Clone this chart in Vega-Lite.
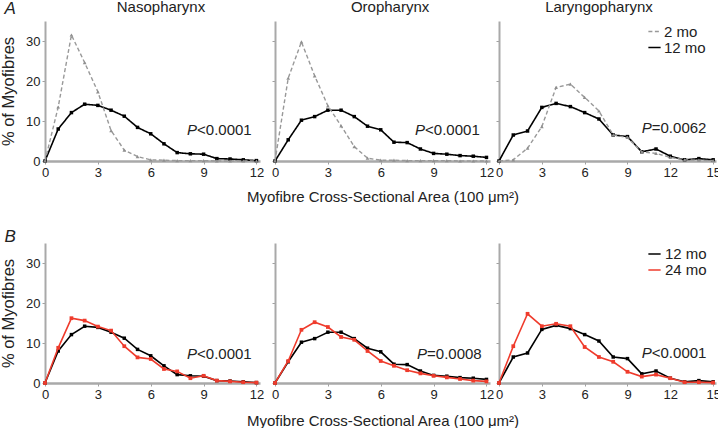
{
"$schema":"https://vega.github.io/schema/vega-lite/v6.json",
"background":"white",
"padding":{"left":0,"top":0,"right":0,"bottom":0},
"config":{
 "font":"Liberation Sans",
 "view":{"stroke":null},
 "axis":{"grid":false,"domainColor":"#a9a9a9","domainWidth":2,"tickColor":"#a0a0a0","tickSize":3,"tickWidth":1,"labelFont":"Liberation Sans","labelFontSize":13,"labelColor":"#222","labelPadding":2,"labelFlush":false,"labelOverlap":false,"titleFont":"Liberation Sans","titleFontSize":15,"titleFontWeight":"normal","titleColor":"#222"},
 "axisX":{"domainWidth":2.5},
 "legend":{"labelFont":"Liberation Sans","labelFontSize":15,"labelColor":"#222","padding":0},
 "text":{"font":"Liberation Sans","fontSize":15,"color":"#222","align":"left","baseline":"middle"}
},
"datasets":{"d":[
{"region":"Nasopharynx","age":"12 mo","x":0,"y":0},{"region":"Nasopharynx","age":"12 mo","x":0.75,"y":8.0},{"region":"Nasopharynx","age":"12 mo","x":1.5,"y":12.1},{"region":"Nasopharynx","age":"12 mo","x":2.25,"y":14.2},{"region":"Nasopharynx","age":"12 mo","x":3,"y":13.9},{"region":"Nasopharynx","age":"12 mo","x":3.75,"y":12.7},{"region":"Nasopharynx","age":"12 mo","x":4.5,"y":11.2},{"region":"Nasopharynx","age":"12 mo","x":5.25,"y":8.4},{"region":"Nasopharynx","age":"12 mo","x":6,"y":6.8},{"region":"Nasopharynx","age":"12 mo","x":6.75,"y":4.3},{"region":"Nasopharynx","age":"12 mo","x":7.5,"y":2.1},{"region":"Nasopharynx","age":"12 mo","x":8.25,"y":1.8},{"region":"Nasopharynx","age":"12 mo","x":9,"y":1.7},{"region":"Nasopharynx","age":"12 mo","x":9.75,"y":0.6},{"region":"Nasopharynx","age":"12 mo","x":10.5,"y":0.5},{"region":"Nasopharynx","age":"12 mo","x":11.25,"y":0.3},{"region":"Nasopharynx","age":"12 mo","x":12,"y":0.1},
{"region":"Oropharynx","age":"12 mo","x":0,"y":0},{"region":"Oropharynx","age":"12 mo","x":0.75,"y":5.3},{"region":"Oropharynx","age":"12 mo","x":1.5,"y":10.2},{"region":"Oropharynx","age":"12 mo","x":2.25,"y":11.1},{"region":"Oropharynx","age":"12 mo","x":3,"y":12.7},{"region":"Oropharynx","age":"12 mo","x":3.75,"y":12.7},{"region":"Oropharynx","age":"12 mo","x":4.5,"y":11.1},{"region":"Oropharynx","age":"12 mo","x":5.25,"y":8.7},{"region":"Oropharynx","age":"12 mo","x":6,"y":7.8},{"region":"Oropharynx","age":"12 mo","x":6.75,"y":4.7},{"region":"Oropharynx","age":"12 mo","x":7.5,"y":4.6},{"region":"Oropharynx","age":"12 mo","x":8.25,"y":3.0},{"region":"Oropharynx","age":"12 mo","x":9,"y":1.9},{"region":"Oropharynx","age":"12 mo","x":9.75,"y":1.7},{"region":"Oropharynx","age":"12 mo","x":10.5,"y":1.35},{"region":"Oropharynx","age":"12 mo","x":11.25,"y":1.2},{"region":"Oropharynx","age":"12 mo","x":12,"y":0.9},
{"region":"Laryngopharynx","age":"12 mo","x":0,"y":0},{"region":"Laryngopharynx","age":"12 mo","x":1,"y":6.5},{"region":"Laryngopharynx","age":"12 mo","x":2,"y":7.5},{"region":"Laryngopharynx","age":"12 mo","x":3,"y":13.4},{"region":"Laryngopharynx","age":"12 mo","x":4,"y":14.4},{"region":"Laryngopharynx","age":"12 mo","x":5,"y":13.6},{"region":"Laryngopharynx","age":"12 mo","x":6,"y":12.1},{"region":"Laryngopharynx","age":"12 mo","x":7,"y":10.5},{"region":"Laryngopharynx","age":"12 mo","x":8,"y":6.5},{"region":"Laryngopharynx","age":"12 mo","x":9,"y":6.1},{"region":"Laryngopharynx","age":"12 mo","x":10,"y":2.3},{"region":"Laryngopharynx","age":"12 mo","x":11,"y":3.0},{"region":"Laryngopharynx","age":"12 mo","x":12,"y":1.2},{"region":"Laryngopharynx","age":"12 mo","x":13,"y":0.3},{"region":"Laryngopharynx","age":"12 mo","x":14,"y":0.6},{"region":"Laryngopharynx","age":"12 mo","x":15,"y":0.3},
{"region":"Nasopharynx","age":"2 mo","x":0,"y":0},{"region":"Nasopharynx","age":"2 mo","x":0.75,"y":13.5},{"region":"Nasopharynx","age":"2 mo","x":1.5,"y":31.5},{"region":"Nasopharynx","age":"2 mo","x":2.25,"y":24.6},{"region":"Nasopharynx","age":"2 mo","x":3,"y":17.3},{"region":"Nasopharynx","age":"2 mo","x":3.75,"y":7.6},{"region":"Nasopharynx","age":"2 mo","x":4.5,"y":2.7},{"region":"Nasopharynx","age":"2 mo","x":5.25,"y":1.1},{"region":"Nasopharynx","age":"2 mo","x":6,"y":0.3},{"region":"Nasopharynx","age":"2 mo","x":6.75,"y":0.2},{"region":"Nasopharynx","age":"2 mo","x":7.5,"y":0.1},{"region":"Nasopharynx","age":"2 mo","x":8.25,"y":0.1},{"region":"Nasopharynx","age":"2 mo","x":9,"y":0.1},{"region":"Nasopharynx","age":"2 mo","x":9.75,"y":0},{"region":"Nasopharynx","age":"2 mo","x":10.5,"y":0},{"region":"Nasopharynx","age":"2 mo","x":11.25,"y":0},{"region":"Nasopharynx","age":"2 mo","x":12,"y":0},
{"region":"Oropharynx","age":"2 mo","x":0,"y":0},{"region":"Oropharynx","age":"2 mo","x":0.75,"y":20.7},{"region":"Oropharynx","age":"2 mo","x":1.5,"y":29.8},{"region":"Oropharynx","age":"2 mo","x":2.25,"y":21.3},{"region":"Oropharynx","age":"2 mo","x":3,"y":13.8},{"region":"Oropharynx","age":"2 mo","x":3.75,"y":8.8},{"region":"Oropharynx","age":"2 mo","x":4.5,"y":3.6},{"region":"Oropharynx","age":"2 mo","x":5.25,"y":0.7},{"region":"Oropharynx","age":"2 mo","x":6,"y":0.2},{"region":"Oropharynx","age":"2 mo","x":6.75,"y":0.2},{"region":"Oropharynx","age":"2 mo","x":7.5,"y":0.1},{"region":"Oropharynx","age":"2 mo","x":8.25,"y":0.1},{"region":"Oropharynx","age":"2 mo","x":9,"y":0.1},{"region":"Oropharynx","age":"2 mo","x":9.75,"y":0.1},{"region":"Oropharynx","age":"2 mo","x":10.5,"y":0},{"region":"Oropharynx","age":"2 mo","x":11.25,"y":0},{"region":"Oropharynx","age":"2 mo","x":12,"y":0},
{"region":"Laryngopharynx","age":"2 mo","x":0,"y":0},{"region":"Laryngopharynx","age":"2 mo","x":1,"y":0.3},{"region":"Laryngopharynx","age":"2 mo","x":2,"y":3.2},{"region":"Laryngopharynx","age":"2 mo","x":3,"y":8.6},{"region":"Laryngopharynx","age":"2 mo","x":4,"y":18.4},{"region":"Laryngopharynx","age":"2 mo","x":5,"y":19.2},{"region":"Laryngopharynx","age":"2 mo","x":6,"y":15.9},{"region":"Laryngopharynx","age":"2 mo","x":7,"y":12.5},{"region":"Laryngopharynx","age":"2 mo","x":8,"y":6.5},{"region":"Laryngopharynx","age":"2 mo","x":9,"y":5.9},{"region":"Laryngopharynx","age":"2 mo","x":10,"y":2.3},{"region":"Laryngopharynx","age":"2 mo","x":11,"y":1.9},{"region":"Laryngopharynx","age":"2 mo","x":12,"y":0.9},{"region":"Laryngopharynx","age":"2 mo","x":13,"y":0.3},{"region":"Laryngopharynx","age":"2 mo","x":14,"y":0.2},{"region":"Laryngopharynx","age":"2 mo","x":15,"y":0.1},
{"region":"Nasopharynx","age":"24 mo","x":0,"y":0},{"region":"Nasopharynx","age":"24 mo","x":0.75,"y":8.8},{"region":"Nasopharynx","age":"24 mo","x":1.5,"y":16.2},{"region":"Nasopharynx","age":"24 mo","x":2.25,"y":15.6},{"region":"Nasopharynx","age":"24 mo","x":3,"y":14.1},{"region":"Nasopharynx","age":"24 mo","x":3.75,"y":13.1},{"region":"Nasopharynx","age":"24 mo","x":4.5,"y":9.2},{"region":"Nasopharynx","age":"24 mo","x":5.25,"y":6.4},{"region":"Nasopharynx","age":"24 mo","x":6,"y":6.0},{"region":"Nasopharynx","age":"24 mo","x":6.75,"y":3.5},{"region":"Nasopharynx","age":"24 mo","x":7.5,"y":2.9},{"region":"Nasopharynx","age":"24 mo","x":8.25,"y":1.2},{"region":"Nasopharynx","age":"24 mo","x":9,"y":1.8},{"region":"Nasopharynx","age":"24 mo","x":9.75,"y":0.6},{"region":"Nasopharynx","age":"24 mo","x":10.5,"y":0.4},{"region":"Nasopharynx","age":"24 mo","x":11.25,"y":0.2},{"region":"Nasopharynx","age":"24 mo","x":12,"y":0.1},
{"region":"Oropharynx","age":"24 mo","x":0,"y":0},{"region":"Oropharynx","age":"24 mo","x":0.75,"y":5.5},{"region":"Oropharynx","age":"24 mo","x":1.5,"y":13.3},{"region":"Oropharynx","age":"24 mo","x":2.25,"y":15.2},{"region":"Oropharynx","age":"24 mo","x":3,"y":14.0},{"region":"Oropharynx","age":"24 mo","x":3.75,"y":11.5},{"region":"Oropharynx","age":"24 mo","x":4.5,"y":10.8},{"region":"Oropharynx","age":"24 mo","x":5.25,"y":8.0},{"region":"Oropharynx","age":"24 mo","x":6,"y":5.5},{"region":"Oropharynx","age":"24 mo","x":6.75,"y":4.3},{"region":"Oropharynx","age":"24 mo","x":7.5,"y":3.2},{"region":"Oropharynx","age":"24 mo","x":8.25,"y":2.4},{"region":"Oropharynx","age":"24 mo","x":9,"y":1.8},{"region":"Oropharynx","age":"24 mo","x":9.75,"y":1.4},{"region":"Oropharynx","age":"24 mo","x":10.5,"y":1.0},{"region":"Oropharynx","age":"24 mo","x":11.25,"y":0.6},{"region":"Oropharynx","age":"24 mo","x":12,"y":0.4},
{"region":"Laryngopharynx","age":"24 mo","x":0,"y":0},{"region":"Laryngopharynx","age":"24 mo","x":1,"y":9.2},{"region":"Laryngopharynx","age":"24 mo","x":2,"y":17.3},{"region":"Laryngopharynx","age":"24 mo","x":3,"y":14.2},{"region":"Laryngopharynx","age":"24 mo","x":4,"y":14.8},{"region":"Laryngopharynx","age":"24 mo","x":5,"y":14.2},{"region":"Laryngopharynx","age":"24 mo","x":6,"y":9.0},{"region":"Laryngopharynx","age":"24 mo","x":7,"y":6.5},{"region":"Laryngopharynx","age":"24 mo","x":8,"y":5.3},{"region":"Laryngopharynx","age":"24 mo","x":9,"y":2.8},{"region":"Laryngopharynx","age":"24 mo","x":10,"y":1.6},{"region":"Laryngopharynx","age":"24 mo","x":11,"y":2.1},{"region":"Laryngopharynx","age":"24 mo","x":12,"y":1.2},{"region":"Laryngopharynx","age":"24 mo","x":13,"y":0.2},{"region":"Laryngopharynx","age":"24 mo","x":14,"y":0.2},{"region":"Laryngopharynx","age":"24 mo","x":15,"y":0.1}
]},
"spacing":222,
"bounds":"flush",
"resolve":{"scale":{"color":"independent","strokeDash":"independent"},"legend":{"color":"independent","strokeDash":"independent"}},
"vconcat":[
{"spacing":15,"bounds":"flush",
 "resolve":{"scale":{"color":"independent","strokeDash":"independent"},"legend":{"color":"independent","strokeDash":"independent"}},
 "hconcat":[
 {"width":215,"height":140,
  "layer":[
   {"data":{"name":"d"},"transform":[{"filter":"datum.region=='Nasopharynx' && datum.age!='24 mo'"}],
    "encoding":{
     "x":{"field":"x","type":"quantitative","scale":{"domain":[0,12.2],"nice":false,"zero":false},"axis":{"values":[0,3,6,9,12],"title":null}},
     "y":{"field":"y","type":"quantitative","scale":{"domain":[0,35],"nice":false},"axis":{"values":[0,10,20,30],"title":"% of Myofibres","titleFontSize":16.5,"titlePadding":9}}},
    "layer":[
     {"transform":[{"filter":"datum.age=='12 mo'"}],"mark":{"type":"line","strokeWidth":1.6},
      "encoding":{"color":{"field":"age","type":"nominal","scale":{"domain":["2 mo","12 mo"],"range":["#999999","#000000"]},"legend":null},"strokeDash":{"field":"age","type":"nominal","scale":{"domain":["2 mo","12 mo"],"range":[[4,2.5],[1,0]]},"legend":null}}},
     {"transform":[{"filter":"datum.age=='12 mo'"}],"mark":{"type":"point","filled":true,"size":12,"opacity":1,"shape":"square","color":"#000000"}},
     {"transform":[{"filter":"datum.age!='12 mo'"}],"mark":{"type":"line","strokeWidth":1.4},
      "encoding":{"color":{"field":"age","type":"nominal","scale":{"domain":["2 mo","12 mo"],"range":["#999999","#000000"]},"legend":null},"strokeDash":{"field":"age","type":"nominal","scale":{"domain":["2 mo","12 mo"],"range":[[4,2.5],[1,0]]},"legend":null}}},
     {"transform":[{"filter":"datum.age!='12 mo'"}],"mark":{"type":"point","filled":true,"size":14,"opacity":1,"shape":"triangle-up","color":"#8f8f8f"}}
    ]},
   {"data":{"values":[{}]},"mark":{"type":"text","align":"center"},"encoding":{"x":{"datum":6.58},"y":{"datum":38.4},"text":{"value":"Nasopharynx"}}},
   {"data":{"values":[{}]},"mark":{"type":"text","fontStyle":"italic"},"encoding":{"x":{"datum":8.06},"y":{"datum":7.75},"text":{"value":"P"}}},
   {"data":{"values":[{}]},"mark":{"type":"text","dx":10},"encoding":{"x":{"datum":8.06},"y":{"datum":7.75},"text":{"value":"<0.0001"}}},
   {"data":{"values":[{}]},"mark":{"type":"text","fontStyle":"italic","fontSize":17},"encoding":{"x":{"datum":-2.3},"y":{"datum":38},"text":{"value":"A"}}}
  ]},
 {"spacing":9,"bounds":"flush",
  "resolve":{"scale":{"color":"independent","strokeDash":"independent"},"legend":{"color":"independent","strokeDash":"independent"}},
  "hconcat":[
  {"width":215,"height":140,
   "layer":[
    {"data":{"name":"d"},"transform":[{"filter":"datum.region=='Oropharynx' && datum.age!='24 mo'"}],
     "encoding":{
      "x":{"field":"x","type":"quantitative","scale":{"domain":[0,12.2],"nice":false,"zero":false},"axis":{"values":[0,3,6,9,12],"title":"Myofibre Cross-Sectional Area (100 μm²)","titlePadding":10}},
      "y":{"field":"y","type":"quantitative","scale":{"domain":[0,35],"nice":false},"axis":{"values":[0,10,20,30],"title":null,"labels":false}}},
     "layer":[
      {"transform":[{"filter":"datum.age=='12 mo'"}],"mark":{"type":"line","strokeWidth":1.6},
       "encoding":{"color":{"field":"age","type":"nominal","scale":{"domain":["2 mo","12 mo"],"range":["#999999","#000000"]},"legend":null},"strokeDash":{"field":"age","type":"nominal","scale":{"domain":["2 mo","12 mo"],"range":[[4,2.5],[1,0]]},"legend":null}}},
      {"transform":[{"filter":"datum.age=='12 mo'"}],"mark":{"type":"point","filled":true,"size":12,"opacity":1,"shape":"square","color":"#000000"}},
      {"transform":[{"filter":"datum.age!='12 mo'"}],"mark":{"type":"line","strokeWidth":1.4},
       "encoding":{"color":{"field":"age","type":"nominal","scale":{"domain":["2 mo","12 mo"],"range":["#999999","#000000"]},"legend":null},"strokeDash":{"field":"age","type":"nominal","scale":{"domain":["2 mo","12 mo"],"range":[[4,2.5],[1,0]]},"legend":null}}},
      {"transform":[{"filter":"datum.age!='12 mo'"}],"mark":{"type":"point","filled":true,"size":14,"opacity":1,"shape":"triangle-up","color":"#8f8f8f"}}
     ]},
    {"data":{"values":[{}]},"mark":{"type":"text","align":"center"},"encoding":{"x":{"datum":6.53},"y":{"datum":38.4},"text":{"value":"Oropharynx"}}},
    {"data":{"values":[{}]},"mark":{"type":"text","fontStyle":"italic"},"encoding":{"x":{"datum":7.95},"y":{"datum":7.75},"text":{"value":"P"}}},
    {"data":{"values":[{}]},"mark":{"type":"text","dx":10},"encoding":{"x":{"datum":7.95},"y":{"datum":7.75},"text":{"value":"<0.0001"}}}
   ]},
  {"width":217,"height":140,
   "layer":[
    {"data":{"name":"d"},"transform":[{"filter":"datum.region=='Laryngopharynx' && datum.age!='24 mo'"}],
     "encoding":{
      "x":{"field":"x","type":"quantitative","scale":{"domain":[0,15.2],"nice":false,"zero":false},"axis":{"values":[0,3,6,9,12,15],"title":null}},
      "y":{"field":"y","type":"quantitative","scale":{"domain":[0,35],"nice":false},"axis":{"values":[0,10,20,30],"title":null,"labels":false}}},
     "layer":[
      {"transform":[{"filter":"datum.age=='12 mo'"}],"mark":{"type":"line","strokeWidth":1.6},
       "encoding":{"color":{"field":"age","type":"nominal","scale":{"domain":["2 mo","12 mo"],"range":["#999999","#000000"]},"legend":{"orient":"none","legendX":148,"legendY":4,"title":null,"symbolType":"stroke","symbolSize":150,"symbolStrokeWidth":1.5,"labelExpr":"datum.label == '2 mo' ? '\u20072 mo' : datum.label","clipHeight":13,"rowPadding":0,"labelOffset":2}},
        "strokeDash":{"field":"age","type":"nominal","scale":{"domain":["2 mo","12 mo"],"range":[[4,2.5],[1,0]]},"legend":{"orient":"none","legendX":148,"legendY":4,"title":null,"symbolType":"stroke","symbolSize":150,"symbolStrokeWidth":1.5,"labelExpr":"datum.label == '2 mo' ? '\u20072 mo' : datum.label","clipHeight":13,"rowPadding":0,"labelOffset":2}}}},
      {"transform":[{"filter":"datum.age=='12 mo'"}],"mark":{"type":"point","filled":true,"size":12,"opacity":1,"shape":"square","color":"#000000"}},
      {"transform":[{"filter":"datum.age!='12 mo'"}],"mark":{"type":"line","strokeWidth":1.4},
       "encoding":{"color":{"field":"age","type":"nominal","scale":{"domain":["2 mo","12 mo"],"range":["#999999","#000000"]},"legend":{"orient":"none","legendX":148,"legendY":4,"title":null,"symbolType":"stroke","symbolSize":150,"symbolStrokeWidth":1.5,"labelExpr":"datum.label == '2 mo' ? '\u20072 mo' : datum.label","clipHeight":13,"rowPadding":0,"labelOffset":2}},
        "strokeDash":{"field":"age","type":"nominal","scale":{"domain":["2 mo","12 mo"],"range":[[4,2.5],[1,0]]},"legend":{"orient":"none","legendX":148,"legendY":4,"title":null,"symbolType":"stroke","symbolSize":150,"symbolStrokeWidth":1.5,"labelExpr":"datum.label == '2 mo' ? '\u20072 mo' : datum.label","clipHeight":13,"rowPadding":0,"labelOffset":2}}}},
      {"transform":[{"filter":"datum.age!='12 mo'"}],"mark":{"type":"point","filled":true,"size":14,"opacity":1,"shape":"triangle-up","color":"#8f8f8f"}}
     ]},
    {"data":{"values":[{}]},"mark":{"type":"text","align":"center"},"encoding":{"x":{"datum":7.0},"y":{"datum":38.4},"text":{"value":"Laryngopharynx"}}},
    {"data":{"values":[{}]},"mark":{"type":"text","fontStyle":"italic"},"encoding":{"x":{"datum":10.0},"y":{"datum":8.25},"text":{"value":"P"}}},
    {"data":{"values":[{}]},"mark":{"type":"text","dx":10},"encoding":{"x":{"datum":10.0},"y":{"datum":8.25},"text":{"value":"=0.0062"}}}
   ]}
  ]}
 ]},
{"spacing":15,"bounds":"flush",
 "resolve":{"scale":{"color":"independent","strokeDash":"independent"},"legend":{"color":"independent","strokeDash":"independent"}},
 "hconcat":[
 {"width":215,"height":140,
  "layer":[
   {"data":{"name":"d"},"transform":[{"filter":"datum.region=='Nasopharynx' && datum.age!='2 mo'"}],
    "encoding":{
     "x":{"field":"x","type":"quantitative","scale":{"domain":[0,12.2],"nice":false,"zero":false},"axis":{"values":[0,3,6,9,12],"title":null}},
     "y":{"field":"y","type":"quantitative","scale":{"domain":[0,35],"nice":false},"axis":{"values":[0,10,20,30],"title":"% of Myofibres","titleFontSize":16.5,"titlePadding":9}}},
    "layer":[
     {"transform":[{"filter":"datum.age=='12 mo'"}],"mark":{"type":"line","strokeWidth":1.6},
      "encoding":{"color":{"field":"age","type":"nominal","scale":{"domain":["12 mo","24 mo"],"range":["#000000","#ef3b2c"]},"legend":null}}},
     {"transform":[{"filter":"datum.age=='12 mo'"}],"mark":{"type":"point","filled":true,"size":12,"opacity":1,"shape":"square","color":"#000000"}},
     {"transform":[{"filter":"datum.age!='12 mo'"}],"mark":{"type":"line","strokeWidth":1.6},
      "encoding":{"color":{"field":"age","type":"nominal","scale":{"domain":["12 mo","24 mo"],"range":["#000000","#ef3b2c"]},"legend":null}}},
     {"transform":[{"filter":"datum.age!='12 mo'"}],"mark":{"type":"point","filled":true,"size":14,"opacity":1,"shape":"square","color":"#ef3b2c"}}
    ]},
   {"data":{"values":[{}]},"mark":{"type":"text","fontStyle":"italic"},"encoding":{"x":{"datum":8.06},"y":{"datum":7.25},"text":{"value":"P"}}},
   {"data":{"values":[{}]},"mark":{"type":"text","dx":10},"encoding":{"x":{"datum":8.06},"y":{"datum":7.25},"text":{"value":"<0.0001"}}},
   {"data":{"values":[{}]},"mark":{"type":"text","fontStyle":"italic","fontSize":17},"encoding":{"x":{"datum":-2.3},"y":{"datum":36.5},"text":{"value":"B"}}}
  ]},
 {"spacing":9,"bounds":"flush",
  "resolve":{"scale":{"color":"independent","strokeDash":"independent"},"legend":{"color":"independent","strokeDash":"independent"}},
  "hconcat":[
  {"width":215,"height":140,
   "layer":[
    {"data":{"name":"d"},"transform":[{"filter":"datum.region=='Oropharynx' && datum.age!='2 mo'"}],
     "encoding":{
      "x":{"field":"x","type":"quantitative","scale":{"domain":[0,12.2],"nice":false,"zero":false},"axis":{"values":[0,3,6,9,12],"title":"Myofibre Cross-Sectional Area (100 μm²)","titlePadding":12}},
      "y":{"field":"y","type":"quantitative","scale":{"domain":[0,35],"nice":false},"axis":{"values":[0,10,20,30],"title":null,"labels":false}}},
     "layer":[
      {"transform":[{"filter":"datum.age=='12 mo'"}],"mark":{"type":"line","strokeWidth":1.6},
       "encoding":{"color":{"field":"age","type":"nominal","scale":{"domain":["12 mo","24 mo"],"range":["#000000","#ef3b2c"]},"legend":null}}},
      {"transform":[{"filter":"datum.age=='12 mo'"}],"mark":{"type":"point","filled":true,"size":12,"opacity":1,"shape":"square","color":"#000000"}},
      {"transform":[{"filter":"datum.age!='12 mo'"}],"mark":{"type":"line","strokeWidth":1.6},
       "encoding":{"color":{"field":"age","type":"nominal","scale":{"domain":["12 mo","24 mo"],"range":["#000000","#ef3b2c"]},"legend":null}}},
      {"transform":[{"filter":"datum.age!='12 mo'"}],"mark":{"type":"point","filled":true,"size":14,"opacity":1,"shape":"square","color":"#ef3b2c"}}
     ]},
    {"data":{"values":[{}]},"mark":{"type":"text","fontStyle":"italic"},"encoding":{"x":{"datum":8.06},"y":{"datum":7.25},"text":{"value":"P"}}},
    {"data":{"values":[{}]},"mark":{"type":"text","dx":10},"encoding":{"x":{"datum":8.06},"y":{"datum":7.25},"text":{"value":"=0.0008"}}}
   ]},
  {"width":217,"height":140,
   "layer":[
    {"data":{"name":"d"},"transform":[{"filter":"datum.region=='Laryngopharynx' && datum.age!='2 mo'"}],
     "encoding":{
      "x":{"field":"x","type":"quantitative","scale":{"domain":[0,15.2],"nice":false,"zero":false},"axis":{"values":[0,3,6,9,12,15],"title":null}},
      "y":{"field":"y","type":"quantitative","scale":{"domain":[0,35],"nice":false},"axis":{"values":[0,10,20,30],"title":null,"labels":false}}},
     "layer":[
      {"transform":[{"filter":"datum.age=='12 mo'"}],"mark":{"type":"line","strokeWidth":1.6},
       "encoding":{"color":{"field":"age","type":"nominal","scale":{"domain":["12 mo","24 mo"],"range":["#000000","#ef3b2c"]},"legend":{"orient":"none","legendX":148,"legendY":3,"title":null,"symbolType":"stroke","symbolSize":150,"symbolStrokeWidth":1.6,"clipHeight":16,"rowPadding":0,"labelOffset":3}}}},
      {"transform":[{"filter":"datum.age=='12 mo'"}],"mark":{"type":"point","filled":true,"size":12,"opacity":1,"shape":"square","color":"#000000"}},
      {"transform":[{"filter":"datum.age!='12 mo'"}],"mark":{"type":"line","strokeWidth":1.6},
       "encoding":{"color":{"field":"age","type":"nominal","scale":{"domain":["12 mo","24 mo"],"range":["#000000","#ef3b2c"]},"legend":{"orient":"none","legendX":148,"legendY":3,"title":null,"symbolType":"stroke","symbolSize":150,"symbolStrokeWidth":1.6,"clipHeight":16,"rowPadding":0,"labelOffset":3}}}},
      {"transform":[{"filter":"datum.age!='12 mo'"}],"mark":{"type":"point","filled":true,"size":14,"opacity":1,"shape":"square","color":"#ef3b2c"}}
     ]},
    {"data":{"values":[{}]},"mark":{"type":"text","fontStyle":"italic"},"encoding":{"x":{"datum":10.0},"y":{"datum":7.5},"text":{"value":"P"}}},
    {"data":{"values":[{}]},"mark":{"type":"text","dx":10},"encoding":{"x":{"datum":10.0},"y":{"datum":7.5},"text":{"value":"<0.0001"}}}
   ]}
  ]}
 ]}
]
}
